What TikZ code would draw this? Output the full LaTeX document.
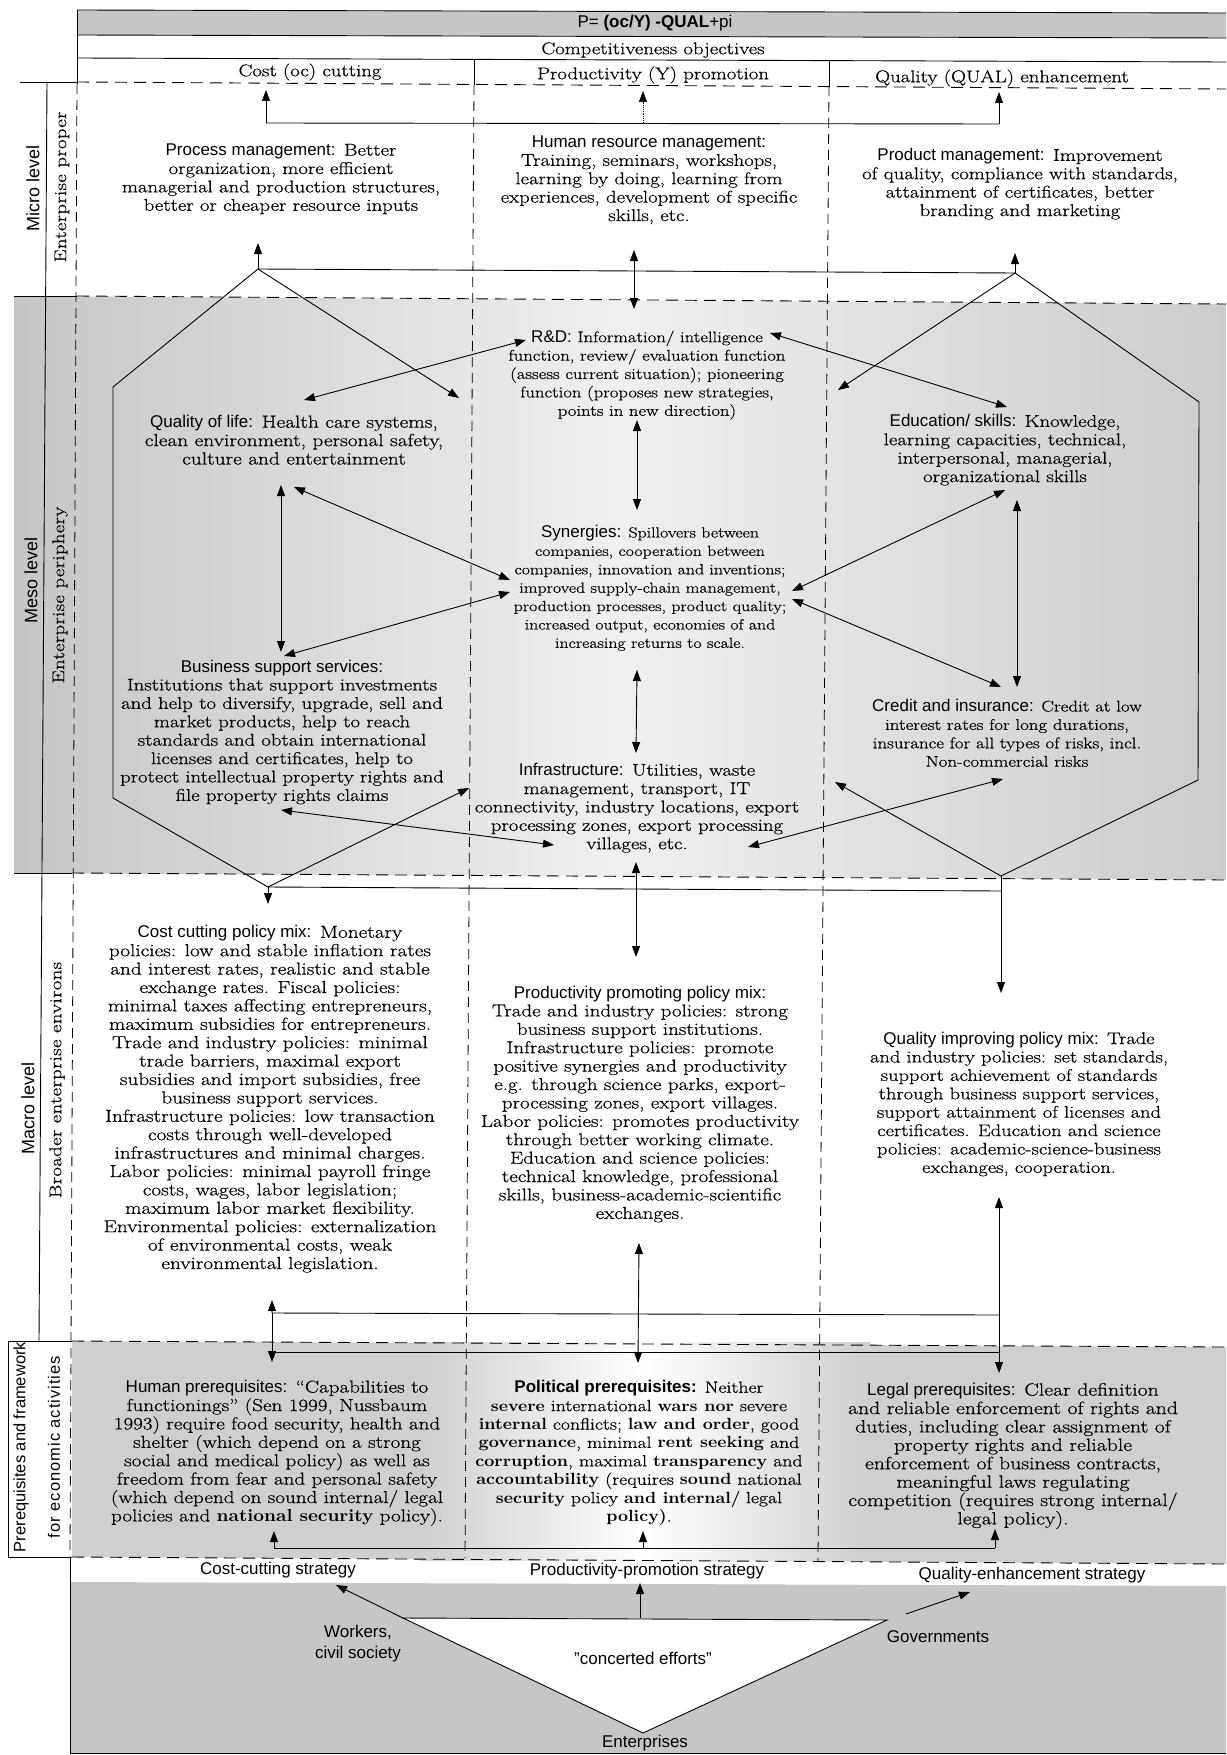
\documentclass[tikz,border=0pt]{standalone}
\usepackage{fontspec}
\setmainfont{Latin Modern Roman}[FakeStretch=1.22, UprightFeatures={FakeBold=0.5}]
\setsansfont{Liberation Sans}
\newfontfamily\bfserif{lmroman10-bold.otf}[FakeStretch=1.08]
\usetikzlibrary{arrows.meta}
\newcommand\lead[1]{{\sffamily\fontsize{17}{18.4}\selectfont #1}}
\newcommand\bw[1]{{\bfserif #1}}
\tikzset{
  body/.style={align=center, inner sep=0pt, font=\fontsize{#1}{18.4}\selectfont},
  body/.default=17,
  sanslbl/.style={align=center, inner sep=0pt, font=\sffamily\fontsize{17}{21}\selectfont},
  ln/.style={line width=0.9pt},
  arr/.style={ln, -{Triangle[length=11pt,width=8pt]}},
  darr/.style={ln, {Triangle[length=11pt,width=8pt]}-{Triangle[length=11pt,width=8pt]}},
  hdash/.style={line width=0.9pt, dash pattern=on 12pt off 7pt},
  vdash/.style={line width=0.8pt, dash pattern=on 10pt off 6pt},
  lvl/.style={rotate=90, inner sep=0pt, font=\sffamily\fontsize{18}{18}\selectfont},
  sublvl/.style={rotate=90, inner sep=0pt, font=\fontsize{17}{17}\selectfont\addfontfeature{LetterSpace=2}},
}
\begin{document}
\begin{tikzpicture}[x=1pt,y=-1pt]
\useasboundingbox (0,0) rectangle (1226,1755);
\fill[white] (0,0) rectangle (1226,1755);

% ---------- shaded bands ----------
\fill[gray!45] (77,10) -- (1226,13) -- (1226,38) -- (77,35) -- cycle;
\shade[left color=gray!45, right color=gray!40, middle color=gray!12] (14,296) -- (1226,304) -- (1226,880) -- (14,873) -- cycle;
\fill[gray!38] (72,1341) -- (1226,1347) -- (1226,1564) -- (72,1557) -- cycle;
\shade[left color=gray!38, right color=gray!38, middle color=white] (420,1342) rectangle (870,1560);
\fill[gray!45] (70,1582) -- (1226,1586) -- (1226,1753) -- (70,1753) -- cycle;

% ---------- frame lines ----------
\draw[ln] (77,10) -- (1226,13);
\draw[ln] (77,35) -- (1226,38);
\draw[ln] (77,58) -- (1226,62);
\draw[ln] (77,10) -- (77,84);
\draw[ln] (474,59) -- (474,85);
\draw[ln] (829,60) -- (829,86);
% level boundaries
\draw[ln] (20,82) -- (77,82);
\draw[hdash] (77,82) -- (1226,89);
\draw[ln] (14,296) -- (77,296);
\draw[hdash] (77,296) -- (1226,304);
\draw[ln] (14,873) -- (72,873);
\draw[hdash] (72,873) -- (1226,880);
\draw[ln] (8,1341) -- (72,1341);
\draw[hdash] (72,1341) -- (1226,1347);
\draw[ln] (8,1557) -- (72,1557);
\draw[hdash] (72,1557) -- (1226,1564);
% verticals
\draw[ln] (47,82) -- (39,1341);
\draw[ln] (8,1341) -- (8,1557);
\draw[vdash] (77,84) -- (70,1557);
\draw[ln] (70,1557) -- (70,1753) -- (1226,1753);
\draw[vdash] (474,85) -- (465,1558);
\draw[vdash] (829,86) -- (818,1562);

% ---------- header texts ----------
\node[sanslbl] (pq) at (655,23) {P= \textbf{(oc/Y) -QUAL}+pi};
\node[body] (co) at (653,50) {Competitiveness objectives};
\node[body] (h1) at (310,72) {Cost (oc) cutting};
\node[body] (h2) at (653,75) {Productivity (Y) promotion};
\node[body] (h3) at (1002,78) {Quality (QUAL) enhancement};

% ---------- level labels ----------
\node[lvl] (lmicro) at (33,188) {Micro level};
\node[sublvl] (lep) at (62,187) {Enterprise proper};
\node[lvl] (lmeso) at (31,580) {Meso level};
\node[sublvl] (lperi) at (60,595) {Enterprise periphery};
\node[lvl] (lmacro) at (28,1108) {Macro level};
\node[sublvl] (lbro) at (57,1080) {Broader enterprise environs};
\node[lvl, font=\sffamily\fontsize{16.5}{16.5}\selectfont] (lpre) at (21,1447) {Prerequisites and framework};
\node[lvl, font=\sffamily\fontsize{16.5}{16.5}\selectfont\addfontfeature{LetterSpace=6}] (lfor) at (54,1447) {for economic activities};

% ---------- micro texts ----------
\node[body] (procm) at (281,179) {\lead{Process management:} Better\\organization, more efficient\\managerial and production structures,\\better or cheaper resource inputs};
\node[body] (hrm) at (649,180) {\lead{Human resource management:}\\Training, seminars, workshops,\\learning by doing, learning from\\experiences, development of specific\\skills, etc.};
\node[body] (prodm) at (1020,184) {\lead{Product management:} Improvement\\of quality, compliance with standards,\\attainment of certificates, better\\branding and marketing};

% ---------- meso texts ----------
\node[body=15.3] (rd) at (647,375) {\lead{R\&D:} Information/ intelligence\\function, review/ evaluation function\\(assess current situation); pioneering\\function (proposes new strategies,\\points in new direction)};
\node[body=17.5] (qol) at (294,440) {\lead{Quality of life:} Health care systems,\\clean environment, personal safety,\\culture and entertainment};
\node[body] (edu) at (1005,450) {\lead{Education/ skills:} Knowledge,\\learning capacities, technical,\\interpersonal, managerial,\\organizational skills};
\node[body=14.6] (syn) at (650,588) {\lead{Synergies:} Spillovers between\\companies, cooperation between\\companies, innovation and inventions;\\improved supply-chain management,\\production processes, product quality;\\increased output, economies of and\\increasing returns to scale.};
\node[body] (bss) at (282,732) {\lead{Business support services:}\\Institutions that support investments\\and help to diversify, upgrade, sell and\\market products, help to reach\\standards and obtain international\\licenses and certificates, help to\\protect intellectual property rights and\\file property rights claims};
\node[body=15.5] (cred) at (1007,733) {\lead{Credit and insurance:} Credit at low\\interest rates for long durations,\\insurance for all types of risks, incl.\\Non-commercial risks};
\node[body] (infra) at (637,808) {\lead{Infrastructure:} Utilities, waste\\management, transport, IT\\connectivity, industry locations, export\\processing zones, export processing\\villages, etc.};

% ---------- macro texts ----------
\node[body=17.4] (ccpm) at (270,1099) {\lead{Cost cutting policy mix:} Monetary\\policies: low and stable inflation rates\\and interest rates, realistic and stable\\exchange rates. Fiscal policies:\\minimal taxes affecting entrepreneurs,\\maximum subsidies for entrepreneurs.\\Trade and industry policies: minimal\\trade barriers, maximal export\\subsidies and import subsidies, free\\business support services.\\Infrastructure policies: low transaction\\costs through well-developed\\infrastructures and minimal charges.\\Labor policies: minimal payroll fringe\\costs, wages, labor legislation;\\maximum labor market flexibility.\\Environmental policies: externalization\\of environmental costs, weak\\environmental legislation.};
\node[body=17.2] (pppm) at (640,1104) {\lead{Productivity promoting policy mix:}\\Trade and industry policies: strong\\business support institutions.\\Infrastructure policies: promote\\positive synergies and productivity\\e.g. through science parks, export-\\processing zones, export villages.\\Labor policies: promotes productivity\\through better working climate.\\Education and science policies:\\technical knowledge, professional\\skills, business-academic-scientific\\exchanges.};
\node[body=16.8] (qipm) at (1019,1104) {\lead{Quality improving policy mix:} Trade\\and industry policies: set standards,\\support achievement of standards\\through business support services,\\support attainment of licenses and\\certificates. Education and science\\policies: academic-science-business\\exchanges, cooperation.};

% ---------- prerequisites texts ----------
\node[body=17.3] (hum) at (277,1453) {\lead{Human prerequisites:} ``Capabilities to\\functionings'' (Sen 1999, Nussbaum\\1993) require food security, health and\\shelter (which depend on a strong\\social and medical policy) as well as\\freedom from fear and personal safety\\(which depend on sound internal/ legal\\policies and \bw{national security} policy).};
\node[body=16.2] (pol) at (639,1453) {\lead{\textbf{Political prerequisites:}} Neither\\\bw{severe} international \bw{wars nor} severe\\\bw{internal} conflicts; \bw{law and order}, good\\\bw{governance}, minimal \bw{rent seeking} and\\\bw{corruption}, maximal \bw{transparency} and\\\bw{accountability} (requires \bw{sound} national\\\bw{security} policy \bw{and internal}/ legal\\\bw{policy)}.};
\node[body=17.8] (leg) at (1013,1456) {\lead{Legal prerequisites:} Clear definition\\and reliable enforcement of rights and\\duties, including clear assignment of\\property rights and reliable\\enforcement of business contracts,\\meaningful laws regulating\\competition (requires strong internal/\\legal policy).};

% ---------- bottom region ----------
\node[sanslbl] (s1) at (278,1570) {Cost-cutting strategy};
\node[sanslbl] (s2) at (647,1571) {Productivity-promotion strategy};
\node[sanslbl] (s3) at (1032,1575) {Quality-enhancement strategy};
\coordinate (tl) at (403,1618);
\coordinate (tr) at (887,1620);
\coordinate (tb) at (643,1733);
\draw[ln, fill=white] (tl) -- (tr) -- (tb) -- cycle;
\node[sanslbl] (conc) at (643,1658) {"concerted efforts"};
\node[sanslbl] (ent) at (645,1743) {Enterprises};
\node[sanslbl] (wrk) at (358,1644) {Workers,\\civil society};
\node[sanslbl] (gov) at (938,1637) {Governments};
\coordinate (s1a) at (336,1585);
\coordinate (s2b) at (640,1618);
\coordinate (s2a) at (640,1583);
\coordinate (s3b) at (906,1614);
\coordinate (s3a) at (970,1592);
\draw[arr] (tl) -- (s1a);
\draw[arr] (s2b) -- (s2a);
\draw[arr] (s3b) -- (s3a);

% ---------- micro connectors ----------
\coordinate (mt1) at (266,123); \coordinate (mt1u) at (266,90);
\coordinate (mt2) at (643,123); \coordinate (mt2u) at (643,91);
\coordinate (mt3) at (999,124); \coordinate (mt3u) at (999,92);
\draw[ln] (mt1) -- (mt3);
\draw[arr] (mt1) -- (mt1u);
\draw[arr] (mt3) -- (mt3u);
\draw[arr, densely dotted, line width=0.6pt] (mt2) -- (mt2u);

\coordinate (apL) at (258,269);
\coordinate (apR) at (1015,273);
\coordinate (apLu) at (258,243);
\coordinate (apRu) at (1015,253);
\draw[ln] (apL) -- (apR);
\draw[arr] (apL) -- (apLu);
\draw[arr] (apR) -- (apRu);
\coordinate (hr1) at (634,250); \coordinate (hr2) at (634,309);
\draw[darr] (hr1) -- (hr2);

% ---------- hexagons ----------
\coordinate (hl1) at (113,387);
\coordinate (hl2) at (113,798);
\coordinate (botL) at (268,887);
\coordinate (hlA) at (459,398);
\coordinate (hlB) at (469,788);
\draw[ln] (apL) -- (hl1) -- (hl2) -- (botL);
\draw[arr] (apL) -- (hlA);
\draw[arr] (botL) -- (hlB);
\coordinate (hr1a) at (1199,402);
\coordinate (hr2a) at (1198,780);
\coordinate (botR) at (1001,876);
\coordinate (hrA) at (838,390);
\coordinate (hrB) at (835,782);
\draw[ln] (apR) -- (hr1a) -- (hr2a) -- (botR);
\draw[arr] (apR) -- (hrA);
\draw[arr] (botR) -- (hrB);

% ---------- meso connectors ----------
\coordinate (a1s) at (304,400); \coordinate (a1e) at (526,340);
\coordinate (a2s) at (770,333); \coordinate (a2e) at (1007,407);
\coordinate (a3s) at (637,420); \coordinate (a3e) at (637,510);
\coordinate (a4s) at (281,485); \coordinate (a4e) at (281,652);
\coordinate (a5s) at (294,487); \coordinate (a5e) at (510,580);
\coordinate (a6s) at (284,656); \coordinate (a6e) at (510,592);
\coordinate (a7s) at (792,591); \coordinate (a7e) at (1005,490);
\coordinate (a8s) at (792,599); \coordinate (a8e) at (1001,687);
\coordinate (a9s) at (1017,500); \coordinate (a9e) at (1017,687);
\coordinate (a10s) at (637,670); \coordinate (a10e) at (636,753);
\coordinate (a11s) at (281,810); \coordinate (a11e) at (554,845);
\coordinate (a12s) at (748,847); \coordinate (a12e) at (1003,779);
\foreach \i in {1,...,12} {\draw[darr] (a\i s) -- (a\i e);}

% ---------- macro connectors ----------
\coordinate (mh1) at (1001,891);
\coordinate (ccT) at (268,904);
\coordinate (qiT) at (1001,993);
\draw[ln] (botL) -- (mh1);
\draw[arr] (botL) -- (ccT);
\draw[arr] (botR) -- (qiT);
\coordinate (m2s) at (636,862); \coordinate (m2e) at (636,957);
\draw[darr] (m2s) -- (m2e);

\coordinate (b1r) at (999,1315);
\coordinate (b1l) at (272,1313);
\coordinate (b1u) at (272,1300);
\coordinate (b1d) at (272,1362);
\draw[arr] (b1r) -- (b1l) -- (b1u);
\draw[arr] (b1l) -- (b1d);
\coordinate (b2l) at (272,1352);
\coordinate (b2r) at (999,1352);
\draw[ln] (b2l) -- (b2r);
\coordinate (b3u) at (999,1197);
\coordinate (b3d) at (999,1373);
\draw[darr] (b3u) -- (b3d);
\coordinate (b4u) at (639,1243);
\coordinate (b4d) at (638,1363);
\draw[darr] (b4u) -- (b4d);

% ---------- prerequisites bottom connectors ----------
\coordinate (p1) at (274,1548); \coordinate (p1u) at (274,1531);
\coordinate (p2) at (643,1548); \coordinate (p2u) at (643,1531);
\coordinate (p3) at (995,1548); \coordinate (p3u) at (995,1529);
\draw[ln] (p1) -- (p3);
\draw[arr] (p1) -- (p1u);
\draw[arr] (p2) -- (p2u);
\draw[arr] (p3) -- (p3u);
\end{tikzpicture}
\end{document}
